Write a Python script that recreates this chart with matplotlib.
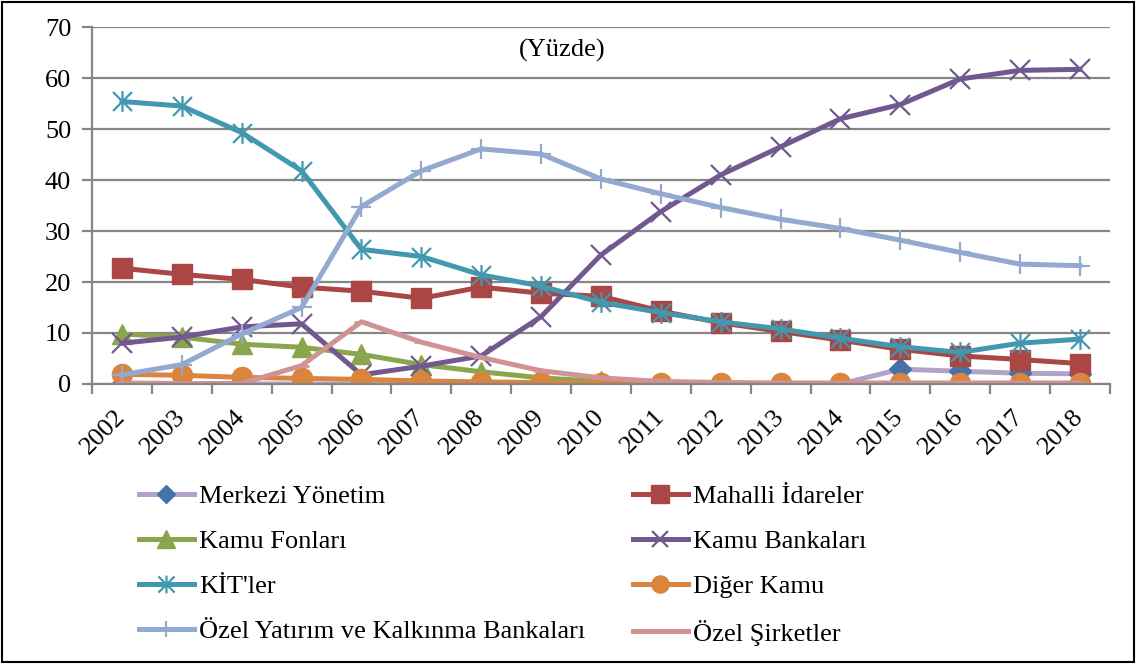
import numpy as np
import matplotlib.pyplot as plt
from matplotlib.path import Path
from matplotlib.patches import Rectangle

plt.rcParams['font.family'] = ['Liberation Serif', 'DejaVu Serif']

years = [str(y) for y in range(2002, 2019)]

merkezi   = [0, 0, 0, 0, 0, 0, 0, 0, 0, 0, 0, 0, 0, 2.9, 2.5, 2.1, 2.0]
mahalli   = [22.7, 21.5, 20.5, 19.0, 18.2, 16.8, 19.0, 17.8, 17.2, 14.3, 12.0,
             10.3, 8.6, 6.8, 5.5, 4.8, 4.0]
fonlar    = [9.8, 9.2, 7.8, 7.2, 5.8, 3.8, 2.4, 1.2, 0.5, 0.1, 0, 0, 0, 0, 0, 0, 0]
bankalar  = [8.0, 9.2, 11.2, 11.8, 1.8, 3.5, 5.5, 13.2, 25.3, 33.8, 41.0,
             46.5, 52.0, 54.8, 59.8, 61.5, 61.7]
kitler    = [55.4, 54.5, 49.3, 41.8, 26.4, 25.0, 21.4, 19.2, 16.0, 14.0, 12.2,
             10.8, 9.0, 7.3, 6.2, 8.0, 8.8]
diger     = [1.9, 1.7, 1.3, 1.1, 0.9, 0.6, 0.4, 0.3, 0.2, 0.1, 0.1, 0.1, 0.1,
             0.1, 0.1, 0.1, 0.1]
ozelyat   = [1.8, 3.8, 9.8, 15.0, 34.8, 41.8, 46.1, 45.1, 40.2, 37.3, 34.6,
             32.3, 30.5, 28.2, 25.8, 23.5, 23.2]
sirketler = [0.2, 0.1, 0.1, 3.6, 12.2, 8.2, 5.2, 2.6, 1.2, 0.5, 0.3, 0.2, 0.2,
             0.2, 0.2, 0.2, 0.2]

# asterisk marker like excel: x plus vertical bar
ast = Path([(-1, -1), (1, 1), (-1, 1), (1, -1), (0, -1.1), (0, 1.1)],
           [Path.MOVETO, Path.LINETO, Path.MOVETO, Path.LINETO,
            Path.MOVETO, Path.LINETO])

fs = 19
fig = plt.figure(figsize=(11.36, 6.64), dpi=100)
ax = fig.add_axes([0.081, 0.4217, 0.896, 0.5376])
x = np.arange(len(years))
lw = 3.6

h = {}
h['Merkezi Yönetim'], = ax.plot(x, merkezi, color='#B3A2C7', lw=lw, marker='D',
                                 ms=11, mfc='#4572A7', mec='#4572A7')
h['Mahalli İdareler'], = ax.plot(x, mahalli, color='#AA4643', lw=lw, marker='s',
                                  ms=14.5, mfc='#AA4643', mec='#AA4643')
h['Kamu Fonları'], = ax.plot(x, fonlar, color='#89A54E', lw=lw, marker='^',
                              ms=15, mfc='#89A54E', mec='#89A54E')
h['Kamu Bankaları'], = ax.plot(x, bankalar, color='#71588F', lw=lw, marker='x',
                                ms=14, mec='#71588F', mew=1.6)
h["KİT'ler"], = ax.plot(x, kitler, color='#4198AF', lw=lw, marker=ast,
                         ms=15, mec='#4198AF', mew=1.6)
h['Diğer Kamu'], = ax.plot(x, diger, color='#DB843D', lw=lw, marker='o',
                            ms=14.5, mfc='#DB843D', mec='#DB843D')
h['Özel Yatırım ve Kalkınma Bankaları'], = ax.plot(
    x, ozelyat, color='#93A9CF', lw=lw, marker='+', ms=14, mec='#93A9CF', mew=1.6)
h['Özel Şirketler'], = ax.plot(x, sirketler, color='#D19392', lw=lw, marker='_',
                               ms=10, mec='#D19392', mew=2)

ax.set_xlim(-0.5, len(years) - 0.5)
ax.set_ylim(0, 70)
ax.set_yticks(range(0, 71, 10))
ax.yaxis.grid(True, color='#868686', lw=1.6)
ax.set_axisbelow(True)
for s in ['top', 'right']:
    ax.spines[s].set_visible(False)
for s in ['left', 'bottom']:
    ax.spines[s].set_color('#868686')
    ax.spines[s].set_linewidth(1.6)
ax.tick_params(axis='y', labelsize=fs, length=7, color='#868686', width=1.6, pad=8)

ax.set_xticks(x)
ax.set_xticklabels(years, rotation=45, ha='right', va='center',
                   rotation_mode='anchor', fontsize=fs)
ax.tick_params(axis='x', which='major', length=0, pad=21)
ax.set_xticks(np.arange(-0.5, len(years)), minor=True)
ax.tick_params(axis='x', which='minor', length=7, color='#868686', width=1.6)

ax.text(7.36, 65.5, '(Yüzde)', fontsize=fs, ha='center', va='center')

col1 = ['Merkezi Yönetim', 'Kamu Fonları', "KİT'ler",
        'Özel Yatırım ve Kalkınma Bankaları']
col2 = ['Mahalli İdareler', 'Kamu Bankaları', 'Diğer Kamu', 'Özel Şirketler']
legkw = dict(loc='upper left', frameon=False, fontsize=fs, handlelength=2.1,
             handletextpad=0.2, labelspacing=0.82, borderaxespad=0, borderpad=0,
             markerscale=0.85)
fig.legend([h[k] for k in col1], col1, bbox_to_anchor=(0.122, 0.2705), **legkw)
fig.legend([h[k] for k in col2], col2, bbox_to_anchor=(0.557, 0.2705), **legkw)

fig.patches.append(Rectangle((0.002, 0.003), 0.996, 0.994, transform=fig.transFigure,
                             fill=False, ec='black', lw=1.5))

fig.savefig('out.png', dpi=100)
